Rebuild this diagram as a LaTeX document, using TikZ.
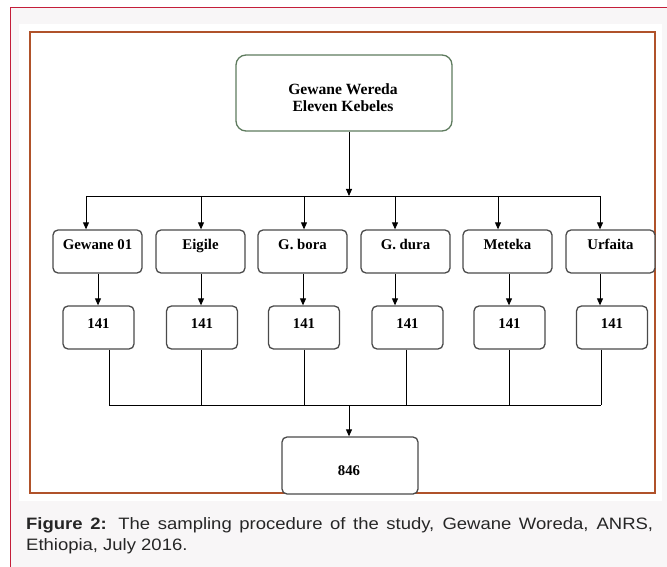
\documentclass[tikz,border=0pt]{standalone}
\usepackage{fontspec}
\setmainfont{Liberation Serif}
\newfontfamily\capfont{Liberation Sans}[FakeStretch=1.12]
\usetikzlibrary{arrows.meta,calc}
\definecolor{crim}{HTML}{C41E3A}
\definecolor{brn}{HTML}{B0522A}
\definecolor{panel}{HTML}{F8F6F7}
\definecolor{topb}{HTML}{5E7B5E}
\definecolor{boxb}{HTML}{4A4A4A}
\definecolor{captxt}{HTML}{262626}
\begin{document}
\begin{tikzpicture}[x=1pt,y=-1pt,
  kbox/.style={draw=boxb, line width=1.3pt, rounded corners=5pt, fill=white, inner sep=0pt},
  rowtwo/.style={kbox, minimum width=89pt, minimum height=43pt},
  rowthree/.style={kbox, minimum width=71pt, minimum height=43pt},
  lbl/.style={font=\fontsize{14.8}{17}\selectfont\bfseries, inner sep=0pt, anchor=base},
  arr/.style={-{Triangle[length=7pt,width=6pt]}, line width=0.9pt},
  ln/.style={line width=0.9pt}]
\useasboundingbox (0,0) rectangle (667,567);
\fill[white] (0,0) rectangle (667,567);
\fill[panel] (10.5,7.5) rectangle (680,580);
\draw[crim, line width=1pt] (10.5,580) -- (10.5,7.5) -- (680,7.5);
\fill[white] (19,24) rectangle (662,501);
\draw[brn, line width=2pt] (29.5,32) rectangle (655,493);

% top node
\node[kbox, draw=topb, rounded corners=10pt, minimum width=216pt, minimum height=76pt] (top) at (344,93) {};
\node[font=\fontsize{15.6}{17}\selectfont\bfseries, align=center, inner sep=0pt] (toptxt) at (343,98) {Gewane Wereda\\Eleven Kebeles};

% row 2
\node[rowtwo] (k1) at (97.5,251.5) {};
\node[rowtwo] (k2) at (200.5,251.5) {};
\node[rowtwo] (k3) at (302.5,251.5) {};
\node[rowtwo] (k4) at (405.5,251.5) {};
\node[rowtwo] (k5) at (507.5,251.5) {};
\node[rowtwo] (k6) at (610.5,251.5) {};
\node[lbl] (t1) at (97.5,249) {Gewane 01};
\node[lbl] (t2) at (200.5,249) {Eigile};
\node[lbl] (t3) at (302.5,249) {G. bora};
\node[lbl] (t4) at (405.5,249) {G. dura};
\node[lbl] (t5) at (507.5,249) {Meteka};
\node[lbl] (t6) at (610.5,249) {Urfaita};

% row 3
\node[rowthree] (n1) at (98.5,327.5) {};
\node[rowthree] (n2) at (202,327.5) {};
\node[rowthree] (n3) at (304,327.5) {};
\node[rowthree] (n4) at (407.5,327.5) {};
\node[rowthree] (n5) at (509.5,327.5) {};
\node[rowthree] (n6) at (612,327.5) {};
\node[lbl] (s1) at (98.5,328) {141};
\node[lbl] (s2) at (202,328) {141};
\node[lbl] (s3) at (304,328) {141};
\node[lbl] (s4) at (407.5,328) {141};
\node[lbl] (s5) at (509.5,328) {141};
\node[lbl] (s6) at (612,328) {141};

% total
\node[kbox, minimum width=136pt, minimum height=57pt] (tot) at (350,465.5) {};
\node[lbl] (tottxt) at (349,475) {846};

% bus 1
\coordinate (tj) at (349,196);
\coordinate (b1) at (86,196);
\coordinate (b2) at (201,196);
\coordinate (b3) at (304,196);
\coordinate (b4) at (395,196);
\coordinate (b5) at (498,196);
\coordinate (b6) at (600,196);
\draw[arr] (top.south -| tj) -- (tj);
\draw[ln] (b1) -- (b6);
\foreach \i in {1,...,6} {\draw[arr] (b\i) -- (b\i |- k\i.north);}

% row2 -> row3
\coordinate (m1) at (98,0);
\coordinate (m2) at (201,0);
\coordinate (m3) at (303,0);
\coordinate (m4) at (395,0);
\coordinate (m5) at (509,0);
\coordinate (m6) at (600,0);
\foreach \i in {1,...,6} {\draw[arr] (k\i.south -| m\i) -- (n\i.north -| m\i);}

% row3 -> bus 2
\coordinate (c1) at (109,405);
\coordinate (c2) at (201,405);
\coordinate (c3) at (304,405);
\coordinate (c4) at (406,405);
\coordinate (c5) at (509,405);
\coordinate (c6) at (601,405);
\coordinate (cj) at (349,405);
\foreach \i in {1,...,6} {\draw[ln] (n\i.south -| c\i) -- (c\i);}
\draw[ln] (c1) -- (c6);
\draw[arr] (cj) -- (cj |- tot.north);

% caption
\node[anchor=north west, inner sep=0pt, text width=627pt, align=justify, text=captxt,
  font=\capfont\fontsize{16.5}{21.5}\selectfont] (cap) at (26,517)
  {\textbf{Figure 2:} The sampling procedure of the study, Gewane Woreda, ANRS,\linebreak Ethiopia, July 2016.};
\end{tikzpicture}
\end{document}
